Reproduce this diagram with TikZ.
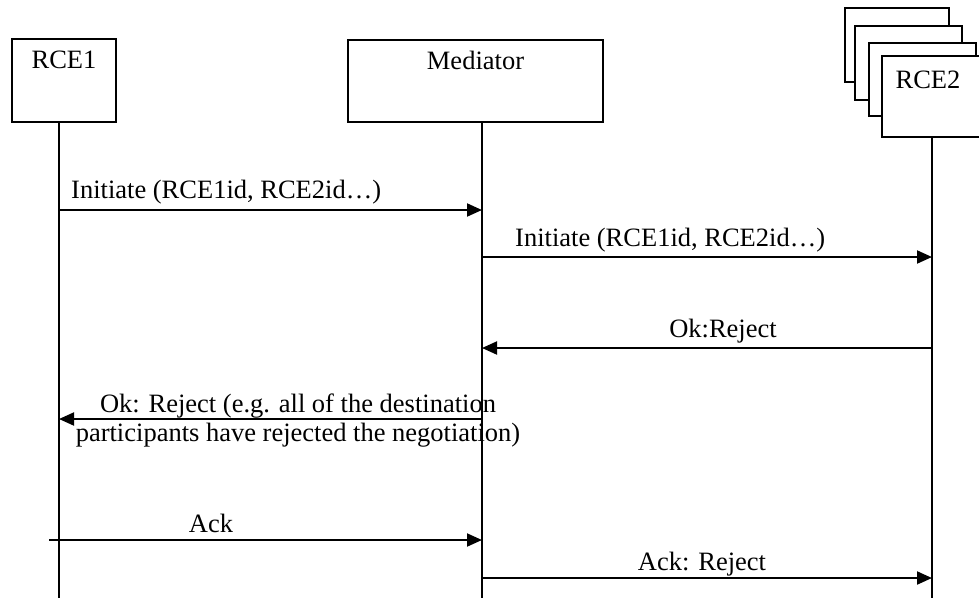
\documentclass[tikz,border=0pt]{standalone}
\usepackage{fontspec}
\setmainfont{Liberation Serif}
\usetikzlibrary{arrows.meta,positioning}

\tikzset{
  lane/.style = {draw, line width=2pt, fill=white, minimum width=104pt, minimum height=83pt, inner sep=0pt},
  life/.style = {line width=2pt},
  msg/.style = {line width=2pt, -{Triangle[length=15pt,width=13pt]}},
  txt/.style = {font=\fontsize{26.5}{26}\selectfont, inner sep=0pt},
}

\begin{document}
\begin{tikzpicture}[x=1pt, y=-1pt]
\useasboundingbox (0,0) rectangle (979,598);
\clip (0,0) rectangle (979,598);

% participants
\node[lane] (rce1) at (64,80.5) {};
\node[lane, minimum width=255pt, minimum height=82pt] (med) at (475.5,81) {};
% RCE2 is a stack of boxes, back to front
\node[lane, minimum height=74pt] (rce2c) at (897,45) {};
\node[lane, minimum width=107pt, minimum height=74pt] (rce2b) at (908.5,63) {};
\node[lane, minimum width=107pt, minimum height=73pt] (rce2a) at (922.5,79.5) {};
\node[lane, minimum height=81pt] (rce2) at (934,96.5) {};

\node[txt, anchor=north] (rce1 name) at ([yshift=-13pt]rce1.north) {RCE1};
\node[txt, anchor=north] (med name) at ([yshift=-12pt]med.north) {Mediator};
\node[txt, anchor=north] (rce2 name) at ([xshift=-6pt, yshift=-16pt]rce2.north) {RCE2};

% lifelines
\coordinate (l1) at (59,598);
\coordinate (lm) at (482,598);
\coordinate (l2) at (932,598);
\draw[life] (l1 |- rce1.south) -- (l1);
\draw[life] (lm |- med.south) -- (lm);
\draw[life] (l2 |- rce2.south) -- (l2);

% messages
\draw[msg] (l1 |- 0,210) -- (lm |- 0,210);
\node[txt, anchor=base west] (init1) at (71,198) {Initiate (RCE1id, RCE2id…)};

\draw[msg] (lm |- 0,257) -- (l2 |- 0,257);
\node[txt, anchor=base west] (init2) at (515,246) {Initiate (RCE1id, RCE2id…)};

\draw[msg] (l2 |- 0,348) -- (lm |- 0,348);
\node[txt, anchor=base] (ok1) at (723,337) {Ok:Reject};

\draw[msg] (lm |- 0,419) -- (l1 |- 0,419);
\node[txt, align=center] (ok2) at (298,421) {Ok: Reject (e.g. all of the destination\\[3pt]participants have rejected the negotiation)};

\draw[msg] ([xshift=-10pt]l1 |- 0,540) -- (lm |- 0,540);
\node[txt, anchor=base] (ack1) at (211,532) {Ack};

\draw[msg] (lm |- 0,578) -- (l2 |- 0,578);
\node[txt, anchor=base] (ack2) at (702,570) {Ack: Reject};
\end{tikzpicture}
\end{document}
